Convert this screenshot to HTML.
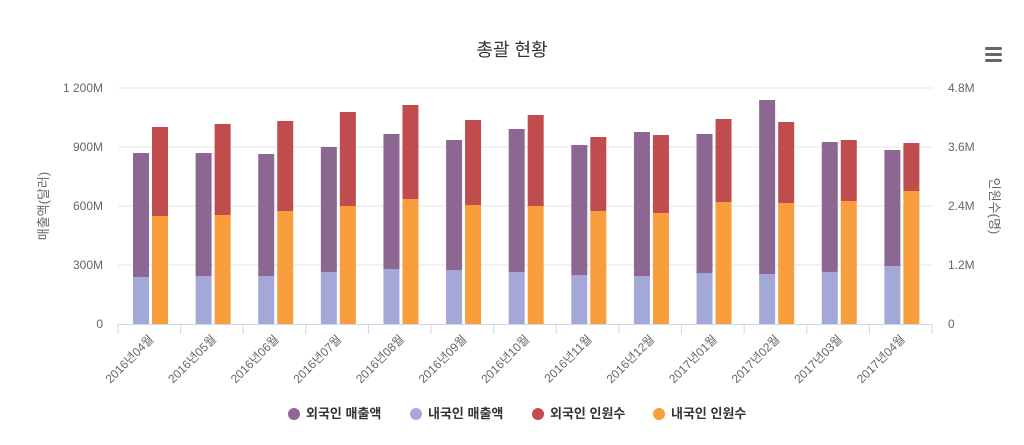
<!DOCTYPE html><html><head><meta charset="utf-8"><style>body{margin:0;background:#fff}svg{display:block}text{font-family:"Liberation Sans","Noto Sans CJK KR",sans-serif}</style></head><body>
<svg width="1024" height="445" viewBox="0 0 1024 445">
<text x="512" y="56" text-anchor="middle" font-size="18" fill="#333">총괄 현황</text>
<g fill="#666"><rect x="985" y="47" width="17" height="3" rx="1.5"/><rect x="985" y="53" width="17" height="3" rx="1.5"/><rect x="985" y="59" width="17" height="3" rx="1.5"/></g>
<g stroke="#e6e6e6"><line x1="118" x2="932" y1="88" y2="88"/><line x1="118" x2="932" y1="147" y2="147"/><line x1="118" x2="932" y1="206" y2="206"/><line x1="118" x2="932" y1="265" y2="265"/></g>
<g font-size="12" fill="#666" text-anchor="end"><text x="103" y="92">1 200M</text><text x="103" y="151">900M</text><text x="103" y="210">600M</text><text x="103" y="269">300M</text><text x="103" y="328">0</text></g>
<g font-size="12" fill="#666"><text x="948" y="92">4.8M</text><text x="948" y="151">3.6M</text><text x="948" y="210">2.4M</text><text x="948" y="269">1.2M</text><text x="948" y="328">0</text></g>
<text transform="translate(48,206) rotate(-90)" text-anchor="middle" font-size="13" fill="#666">매출액(달러)</text>
<text transform="translate(990,206) rotate(90)" text-anchor="middle" font-size="13" fill="#666">인원수(명)</text>
<g id="bars"></g>
<line x1="118" x2="932" y1="324.5" y2="324.5" stroke="#ccd6eb"/>
<g id="ticks" stroke="#ccd6eb"></g>
<g id="lbl" font-size="12" fill="#666"></g>
<g font-size="13" font-weight="bold" fill="#333">
<circle cx="294" cy="414" r="6" fill="#8b6792"/><text x="306" y="418">외국인 매출액</text>
<circle cx="416" cy="414" r="6" fill="#a3a8d9"/><text x="428" y="418">내국인 매출액</text>
<circle cx="538" cy="414" r="6" fill="#c04c4e"/><text x="550" y="418">외국인 인원수</text>
<circle cx="659" cy="414" r="6" fill="#f89e3c"/><text x="671" y="418">내국인 인원수</text>
</g>
</svg>
<script>
var d=[[153,277,127,216],[153,276,124,215],[154,276,121,211],[147,272,112,206],[134,269,105,199],[140,270,120,205],[129,272,115,206],[145,275,137,211],[132,276,135,213],[134,273,119,202],[100,274,122,203],[142,272,140,201],[150,266,143,191]];
var labs=["2016년04월","2016년05월","2016년06월","2016년07월","2016년08월","2016년09월","2016년10월","2016년11월","2016년12월","2017년01월","2017년02월","2017년03월","2017년04월"];
var ns="http://www.w3.org/2000/svg",B=document.getElementById("bars"),T=document.getElementById("ticks"),L=document.getElementById("lbl");
function r(x,y,h,c){var e=document.createElementNS(ns,"rect");e.setAttribute("x",x);e.setAttribute("y",y);e.setAttribute("width",16);e.setAttribute("height",h);e.setAttribute("fill",c);B.appendChild(e);}
var w=814/13;
for(var i=0;i<13;i++){var x0=118+i*w,x=x0+15,v=d[i];
r(x,v[0],v[1]-v[0],"#8b6792");r(x,v[1],324-v[1],"#a3a8d9");r(x+19,v[2],v[3]-v[2],"#c04c4e");r(x+19,v[3],324-v[3],"#f89e3c");
var l=document.createElementNS(ns,"line");l.setAttribute("x1",x0);l.setAttribute("x2",x0);l.setAttribute("y1",324);l.setAttribute("y2",334);T.appendChild(l);
var t=document.createElementNS(ns,"text");var cx=x0+w/2+5;t.setAttribute("x",cx);t.setAttribute("y",340);t.setAttribute("text-anchor","end");t.setAttribute("transform","rotate(-45 "+cx+" 340)");t.textContent=labs[i];L.appendChild(t);}
var l=document.createElementNS(ns,"line");l.setAttribute("x1",932);l.setAttribute("x2",932);l.setAttribute("y1",324);l.setAttribute("y2",334);T.appendChild(l);
</script>
</body></html>
